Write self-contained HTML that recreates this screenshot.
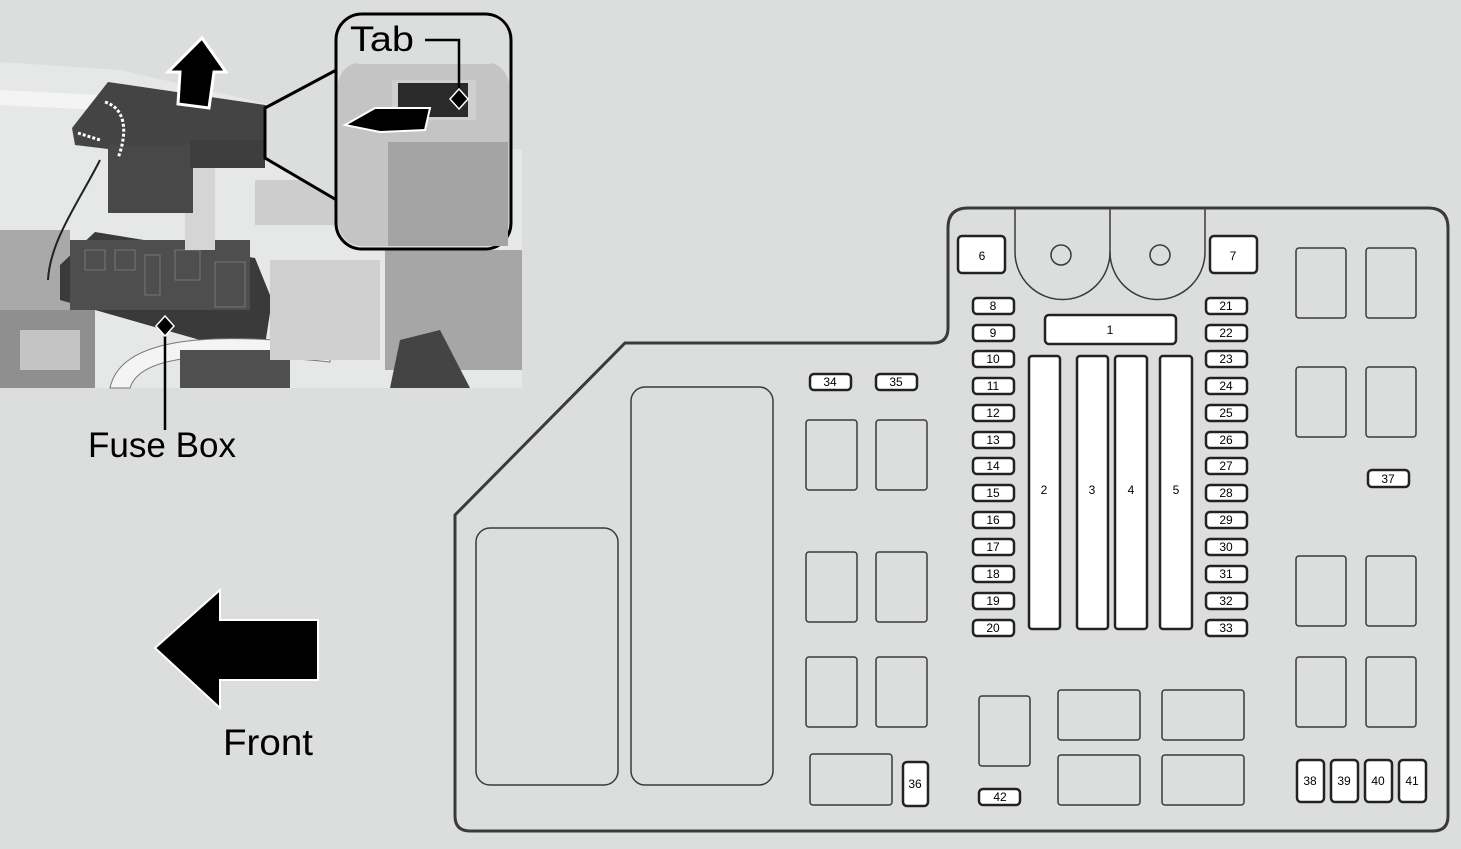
<!DOCTYPE html>
<html><head><style>
html,body{margin:0;padding:0;background:#dcdedd;}
svg{display:block;}
text{font-family:"Liberation Sans",sans-serif;}
</style></head><body>
<svg width="1461" height="849" viewBox="0 0 1461 849" xmlns="http://www.w3.org/2000/svg">
<rect width="1461" height="849" fill="#dcdedd"/>
<!-- photo -->
<polygon points="0,62 120,70 250,100 340,120 522,150 522,388 0,388" fill="#e6e7e7"/>
<polygon points="0,90 100,95 240,115 330,130 330,140 240,128 100,110 0,105" fill="#f4f4f4"/>
<rect x="0" y="230" width="70" height="120" fill="#a9a9a9"/>
<rect x="0" y="310" width="95" height="78" fill="#8f8f8f"/>
<rect x="20" y="330" width="60" height="40" fill="#c4c4c4"/>
<polygon points="60,265 95,232 255,258 272,300 265,345 200,340 60,300" fill="#3a3a3a"/>
<rect x="70" y="240" width="180" height="70" fill="#4e4e4e"/>
<g stroke="#777" stroke-width="1" fill="none">
<rect x="85" y="250" width="20" height="20"/><rect x="115" y="250" width="20" height="20"/><rect x="145" y="255" width="15" height="40"/><rect x="175" y="250" width="25" height="30"/><rect x="215" y="262" width="30" height="45"/>
</g>
<path d="M110,388 C120,340 200,330 330,345 L330,362 C210,350 140,355 130,388Z" fill="#f4f4f4" stroke="#777"/>
<rect x="180" y="350" width="110" height="38" fill="#505050"/>
<rect x="385" y="250" width="137" height="120" fill="#a6a6a6"/>
<polygon points="400,340 440,330 470,388 390,388" fill="#444"/>
<rect x="270" y="260" width="110" height="100" fill="#cfcfcf"/>
<rect x="255" y="180" width="80" height="45" fill="#cdcdcd"/>
<rect x="185" y="160" width="30" height="90" fill="#d5d5d5"/>
<!-- cover -->
<polygon points="108,82 265,105 308,120 305,150 270,160 200,160 75,145 72,128" fill="#444"/>
<rect x="108" y="145" width="85" height="68" fill="#484848"/>
<rect x="190" y="140" width="75" height="28" fill="#3e3e3e"/>
<path d="M105,102 C130,110 125,140 118,158" stroke="#fff" stroke-width="3" stroke-dasharray="3,2" fill="none"/>
<path d="M78,133 L100,140" stroke="#fff" stroke-width="3" stroke-dasharray="3,2" fill="none"/>
<path d="M100,160 C80,200 50,240 48,280" stroke="#222" stroke-width="2" fill="none"/>
<!-- up arrow -->
<polygon points="168,72 202,38 226,72 214,72 209,108 178,104 180,72" fill="#000" stroke="#fff" stroke-width="3"/>
<!-- callout -->
<polygon points="265,108 340,68 340,202 265,158" fill="#dcdedd" stroke="#000" stroke-width="3"/>
<rect x="336" y="14" width="175" height="235" rx="26" fill="#dcdedd" stroke="#000" stroke-width="3"/>
<rect x="338" y="62" width="171" height="184" rx="24" fill="#c4c4c4"/>
<rect x="339" y="16" width="170" height="48" rx="22" fill="#dcdedd"/>
<rect x="388" y="142" width="120" height="104" fill="#a4a4a4"/>
<rect x="392" y="80" width="84" height="40" fill="#cfcfcf"/>
<rect x="398" y="83" width="70" height="34" fill="#2a2a2a"/>
<polygon points="345,125 375,108 430,108 425,130 380,132" fill="#000" stroke="#fff" stroke-width="2"/>
<text x="350" y="51" font-size="35" fill="#000" textLength="64" lengthAdjust="spacingAndGlyphs">Tab</text>
<polyline points="425,40 459,40 459,96" fill="none" stroke="#000" stroke-width="2.5"/>
<polygon points="459,89 468,99 459,109 450,99" fill="#000" stroke="#fff" stroke-width="1.5"/>
<!-- fuse box label -->
<line x1="165" y1="330" x2="165" y2="430" stroke="#000" stroke-width="2.5"/>
<polygon points="165,316 174,326 165,336 156,326" fill="#000" stroke="#fff" stroke-width="1.5"/>
<text x="88" y="457" font-size="35" fill="#000" textLength="148" lengthAdjust="spacingAndGlyphs">Fuse Box</text>
<!-- front arrow -->
<polygon points="155,648 220,590 220,620 318,620 318,680 220,680 220,708" fill="#000" stroke="#fff" stroke-width="2"/>
<text x="223" y="755" font-size="37" fill="#000" textLength="90" lengthAdjust="spacingAndGlyphs">Front</text>
<!-- fuse box outline -->
<path d="M968,208 L1428,208 Q1448,208 1448,228 L1448,816 Q1448,831 1433,831 L470,831 Q455,831 455,816 L455,515 L625,343 L933,343 Q948,343 948,328 L948,228 Q948,208 968,208 Z" fill="#dcdedd" stroke="#3a3a3a" stroke-width="3"/>
<g fill="none" stroke="#3a3a3a" stroke-width="1.5">
<path d="M1015,208 L1015,252 A47,47 0 0 0 1110,252 L1110,208"/>
<path d="M1110,252 A47,47 0 0 0 1205,252 L1205,208"/>
<circle cx="1061" cy="255" r="10"/><circle cx="1160" cy="255" r="10"/>
<rect x="476" y="528" width="142" height="257" rx="14"/>
<rect x="631" y="387" width="142" height="398" rx="14"/>
<rect x="806" y="420" width="51" height="70" rx="3"/><rect x="876" y="420" width="51" height="70" rx="3"/>
<rect x="806" y="552" width="51" height="70" rx="3"/><rect x="876" y="552" width="51" height="70" rx="3"/>
<rect x="806" y="657" width="51" height="70" rx="3"/><rect x="876" y="657" width="51" height="70" rx="3"/>
<rect x="810" y="754" width="82" height="51" rx="3"/>
<rect x="979" y="696" width="51" height="70" rx="3"/>
<rect x="1058" y="690" width="82" height="50" rx="3"/><rect x="1162" y="690" width="82" height="50" rx="3"/>
<rect x="1058" y="755" width="82" height="50" rx="3"/><rect x="1162" y="755" width="82" height="50" rx="3"/>
<rect x="1296" y="248" width="50" height="70" rx="3"/><rect x="1366" y="248" width="50" height="70" rx="3"/>
<rect x="1296" y="367" width="50" height="70" rx="3"/><rect x="1366" y="367" width="50" height="70" rx="3"/>
<rect x="1296" y="556" width="50" height="70" rx="3"/><rect x="1366" y="556" width="50" height="70" rx="3"/>
<rect x="1296" y="657" width="50" height="70" rx="3"/><rect x="1366" y="657" width="50" height="70" rx="3"/>
</g>
<g fill="#fff" stroke="#222" stroke-width="2.5">
<rect x="958" y="236" width="47" height="37" rx="4"/><rect x="1210" y="236" width="47" height="37" rx="4"/>
<rect x="1045" y="315" width="131" height="29" rx="4"/>
<rect x="1029" y="356" width="31" height="273" rx="3"/><rect x="1077" y="356" width="31" height="273" rx="3"/>
<rect x="1115" y="356" width="32" height="273" rx="3"/><rect x="1160" y="356" width="32" height="273" rx="3"/>
<rect x="810" y="374" width="41" height="16" rx="4"/><rect x="876" y="374" width="41" height="16" rx="4"/>
<rect x="903" y="762" width="25" height="44" rx="4"/>
<rect x="979" y="789" width="41" height="16" rx="4"/>
<rect x="1368" y="470" width="41" height="17" rx="4"/>
<rect x="1297" y="760" width="27" height="42" rx="4"/><rect x="1331" y="760" width="27" height="42" rx="4"/>
<rect x="1365" y="760" width="27" height="42" rx="4"/><rect x="1399" y="760" width="27" height="42" rx="4"/>
</g>
<g fill="#fff" stroke="#222" stroke-width="2.5">
<rect x="973" y="298" width="41" height="16" rx="4"/><rect x="973" y="325" width="41" height="16" rx="4"/>
<rect x="973" y="351" width="41" height="16" rx="4"/><rect x="973" y="378" width="41" height="16" rx="4"/>
<rect x="973" y="405" width="41" height="16" rx="4"/><rect x="973" y="432" width="41" height="16" rx="4"/>
<rect x="973" y="458" width="41" height="16" rx="4"/><rect x="973" y="485" width="41" height="16" rx="4"/>
<rect x="973" y="512" width="41" height="16" rx="4"/><rect x="973" y="539" width="41" height="16" rx="4"/>
<rect x="973" y="566" width="41" height="16" rx="4"/><rect x="973" y="593" width="41" height="16" rx="4"/>
<rect x="973" y="620" width="41" height="16" rx="4"/>
<rect x="1206" y="298" width="41" height="16" rx="4"/><rect x="1206" y="325" width="41" height="16" rx="4"/>
<rect x="1206" y="351" width="41" height="16" rx="4"/><rect x="1206" y="378" width="41" height="16" rx="4"/>
<rect x="1206" y="405" width="41" height="16" rx="4"/><rect x="1206" y="432" width="41" height="16" rx="4"/>
<rect x="1206" y="458" width="41" height="16" rx="4"/><rect x="1206" y="485" width="41" height="16" rx="4"/>
<rect x="1206" y="512" width="41" height="16" rx="4"/><rect x="1206" y="539" width="41" height="16" rx="4"/>
<rect x="1206" y="566" width="41" height="16" rx="4"/><rect x="1206" y="593" width="41" height="16" rx="4"/>
<rect x="1206" y="620" width="41" height="16" rx="4"/>
</g>
<g font-size="12" fill="#000" text-anchor="middle">
<text x="982" y="260">6</text><text x="1233" y="260">7</text><text x="1110" y="334">1</text>
<text x="1044" y="494">2</text><text x="1092" y="494">3</text><text x="1131" y="494">4</text><text x="1176" y="494">5</text>
<text x="993" y="310">8</text><text x="993" y="337">9</text><text x="993" y="363">10</text><text x="993" y="390">11</text>
<text x="993" y="417">12</text><text x="993" y="444">13</text><text x="993" y="470">14</text><text x="993" y="497">15</text>
<text x="993" y="524">16</text><text x="993" y="551">17</text><text x="993" y="578">18</text><text x="993" y="605">19</text><text x="993" y="632">20</text>
<text x="1226" y="310">21</text><text x="1226" y="337">22</text><text x="1226" y="363">23</text><text x="1226" y="390">24</text>
<text x="1226" y="417">25</text><text x="1226" y="444">26</text><text x="1226" y="470">27</text><text x="1226" y="497">28</text>
<text x="1226" y="524">29</text><text x="1226" y="551">30</text><text x="1226" y="578">31</text><text x="1226" y="605">32</text><text x="1226" y="632">33</text>
<text x="830" y="386">34</text><text x="896" y="386">35</text><text x="915" y="788">36</text>
<text x="1388" y="483">37</text><text x="1000" y="801">42</text>
<text x="1310" y="785">38</text><text x="1344" y="785">39</text><text x="1378" y="785">40</text><text x="1412" y="785">41</text>
</g>
</svg>
</body></html>
